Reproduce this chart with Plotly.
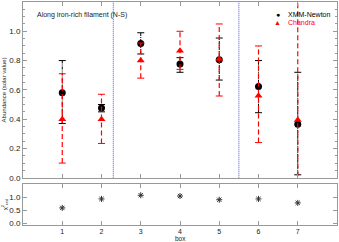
import plotly.graph_objects as go

boxes = [1, 2, 3, 4, 5, 6, 7]
xmm = [0.58, 0.476, 0.917, 0.776, 0.805, 0.623, 0.366]
xmm_hi = [0.80, 0.50, 0.99, 0.82, 0.954, 0.80, 0.72]
xmm_lo = [0.37, 0.45, 0.845, 0.72, 0.667, 0.444, 0.02]
chandra = [0.40, 0.40, 0.80, 0.867, 0.81, 0.56, 0.394]
chandra_hi = [0.71, 0.57, 0.92, 1.0, 1.05, 0.90, 1.30]
chandra_lo = [0.10, 0.234, 0.68, 0.74, 0.558, 0.24, -0.10]
chi2 = [0.60, 0.94, 1.08, 1.05, 0.91, 0.94, 0.79]
dividers = [2.3, 5.5]

FONT = "Liberation Sans, Arial, sans-serif"
GREY = "#999999"

def seg(xs, lo, hi):
    X, Y = [], []
    for a, l, h in zip(xs, lo, hi):
        X += [a, a, None]
        Y += [l, h, None]
    return X, Y

fig = go.Figure()

# XMM error bars
ex, ey = seg(boxes, xmm_lo, xmm_hi)
fig.add_trace(go.Scatter(x=ex, y=ey, mode="lines", line=dict(color="black", width=1, dash="3px,1px,1px,1px"),
                         showlegend=False, hoverinfo="skip", xaxis="x", yaxis="y"))
fig.add_trace(go.Scatter(x=boxes + boxes, y=xmm_lo + xmm_hi, mode="markers",
                         marker=dict(symbol="line-ew", size=5, line=dict(color="black", width=1)),
                         showlegend=False, hoverinfo="skip", xaxis="x", yaxis="y"))
fig.add_trace(go.Scatter(x=boxes, y=xmm, mode="markers", name="XMM-Newton", showlegend=False,
                         marker=dict(symbol="circle", size=7, color="black"), xaxis="x", yaxis="y"))

# Chandra error bars
cx, cy = seg(boxes, chandra_lo, chandra_hi)
fig.add_trace(go.Scatter(x=cx, y=cy, mode="lines", line=dict(color="red", width=1.2, dash="5px,3px"),
                         showlegend=False, hoverinfo="skip", xaxis="x", yaxis="y"))
fig.add_trace(go.Scatter(x=boxes + boxes, y=chandra_lo + chandra_hi, mode="markers",
                         marker=dict(symbol="line-ew", size=5, line=dict(color="red", width=1)),
                         showlegend=False, hoverinfo="skip", xaxis="x", yaxis="y"))
fig.add_trace(go.Scatter(x=boxes, y=chandra, mode="markers", name="Chandra", showlegend=False,
                         marker=dict(symbol="triangle-up", size=7, color="red"), xaxis="x", yaxis="y"))

# chi2 panel
fig.add_trace(go.Scatter(x=boxes, y=chi2, mode="markers", showlegend=False,
                         marker=dict(symbol="asterisk-open", size=5, color="#333333",
                                     line=dict(color="#333333", width=1)),
                         xaxis="x2", yaxis="y2"))

for d in dividers:
    fig.add_shape(type="line", x0=d, x1=d, y0=0, y1=1, xref="x", yref="y domain",
                  line=dict(color="#4d4dff", width=1, dash="1px,1px"))

axis_common = dict(showline=True, linecolor=GREY, linewidth=1, mirror="ticks", ticks="inside",
                   tickcolor=GREY, showgrid=False, zeroline=False, automargin=False,
                   tickfont=dict(size=8, color="#222222", family=FONT))

legend_items = [("●", "black", "XMM-Newton", 0.942), ("▲", "red", "Chandra", 0.906)]
annotations = [dict(text="Along iron-rich filament (N-S)", x=0.3, y=1.11, xref="x", yref="y",
                    xanchor="left", yanchor="middle", showarrow=False,
                    font=dict(size=7, color="#222222", family=FONT)),
               dict(text="box", x=0.5, y=-0.06, xref="paper", yref="paper", xanchor="center",
                    yanchor="middle", showarrow=False, font=dict(size=6.5, color="#222222", family=FONT))]
for sym, col, label, yy in legend_items:
    annotations.append(dict(text=sym, x=0.812, y=yy, xref="paper", yref="paper", xanchor="center",
                            yanchor="middle", showarrow=False, font=dict(size=7, color=col, family=FONT)))
    annotations.append(dict(text=label, x=0.838, y=yy, xref="paper", yref="paper", xanchor="left",
                            yanchor="middle", showarrow=False, font=dict(size=7, color=col, family=FONT)))

fig.update_layout(
    width=339, height=242,
    margin=dict(l=23, r=2, t=2, b=17),
    paper_bgcolor="white", plot_bgcolor="white",
    font=dict(family=FONT, size=8, color="#222222"),
    xaxis=dict(range=[0, 8], domain=[0, 1], anchor="y", tickvals=boxes, showticklabels=False,
               ticklen=4, **axis_common),
    yaxis=dict(range=[0, 1.2], domain=[0.212, 1], anchor="x", dtick=0.2, tickformat=".1f", ticklen=4,
               minor=dict(ticks="inside", dtick=0.05, ticklen=2, tickcolor=GREY),
               title=dict(text="Abundance (solar value)", font=dict(size=6), standoff=2),
               **axis_common),
    xaxis2=dict(range=[0, 8], domain=[0, 1], anchor="y2", tickvals=boxes, ticklen=4,
                **{**axis_common, "tickfont": dict(size=7, color="#222222", family=FONT)}),
    yaxis2=dict(range=[-0.05, 1.5], domain=[0, 0.183], anchor="x2", tickvals=[0, 0.5, 1.0],
                tickformat=".1f", ticklen=4,
                title=dict(text="χ<sup>2</sup><sub>red</sub>", font=dict(size=6), standoff=2),
                **axis_common),
    showlegend=False,
    annotations=annotations,
)

fig.write_html("out.html", config={"displayModeBar": False},
               post_script="document.body.style.margin='0';document.body.style.overflow='hidden';")
